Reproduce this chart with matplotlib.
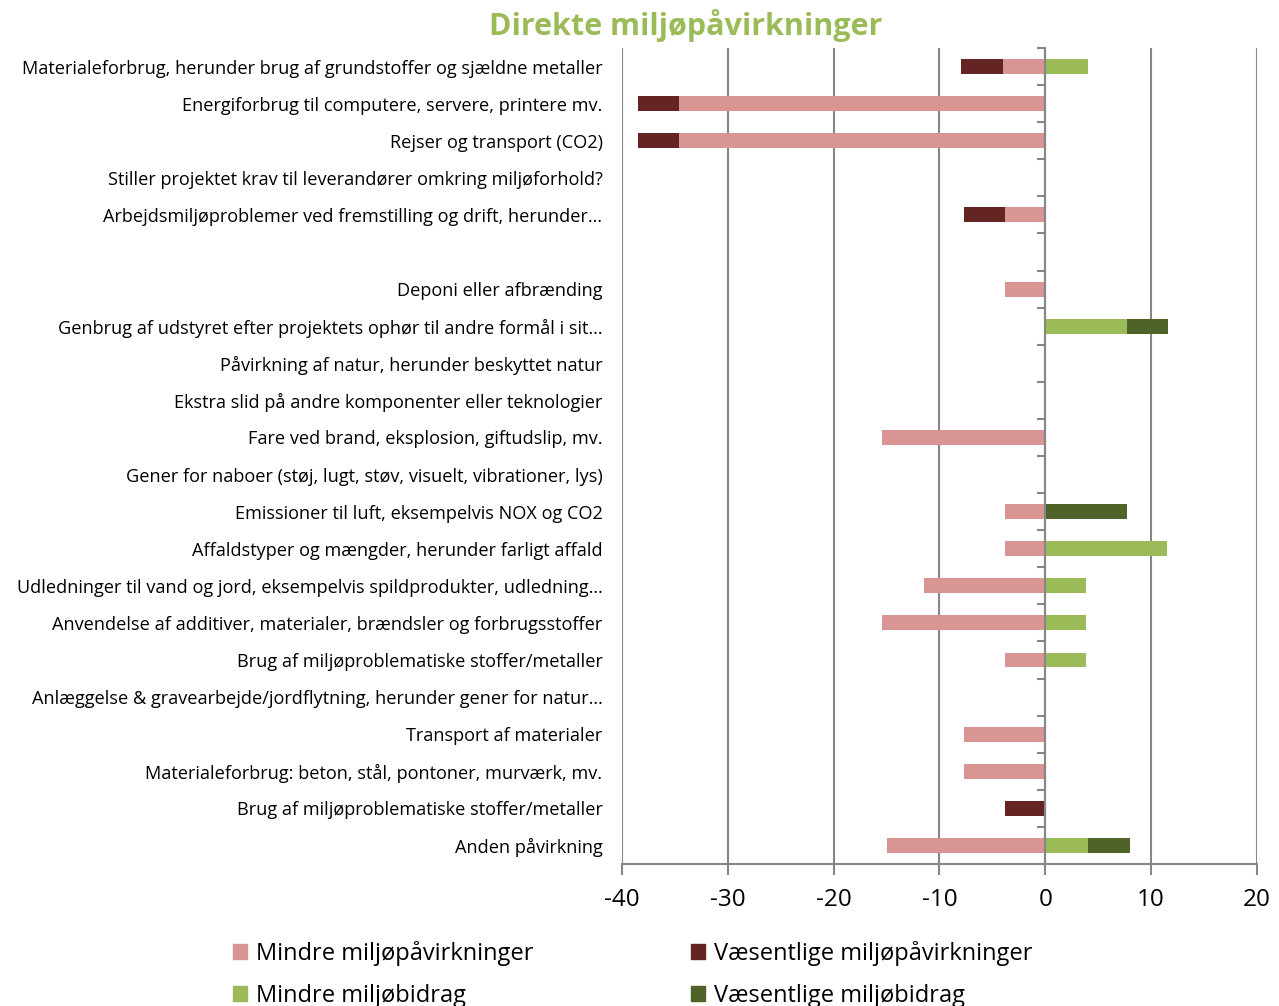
import numpy as np
import matplotlib.pyplot as plt
from matplotlib.patches import Patch

plt.rcParams['font.family'] = ['Open Sans', 'DejaVu Sans']

categories = [
    "Materialeforbrug, herunder brug af grundstoffer og sjældne metaller",
    "Energiforbrug til computere, servere, printere mv.",
    "Rejser og transport (CO2)",
    "Stiller projektet krav til leverandører omkring miljøforhold?",
    "Arbejdsmiljøproblemer ved fremstilling og drift, herunder…",
    "",
    "Deponi eller afbrænding",
    "Genbrug af udstyret efter projektets ophør til andre formål i sit…",
    "Påvirkning af natur, herunder beskyttet natur",
    "Ekstra slid på andre komponenter eller teknologier",
    "Fare ved brand, eksplosion, giftudslip, mv.",
    "Gener for naboer (støj, lugt, støv, visuelt, vibrationer, lys)",
    "Emissioner til luft, eksempelvis NOX og CO2",
    "Affaldstyper og mængder, herunder farligt affald",
    "Udledninger til vand og jord, eksempelvis spildprodukter, udledning…",
    "Anvendelse af additiver, materialer, brændsler og forbrugsstoffer",
    "Brug af miljøproblematiske stoffer/metaller",
    "Anlæggelse & gravearbejde/jordflytning, herunder gener for natur…",
    "Transport af materialer",
    "Materialeforbrug: beton, stål, pontoner, murværk, mv.",
    "Brug af miljøproblematiske stoffer/metaller",
    "Anden påvirkning",
]

# negative = påvirkninger, positive = bidrag (procent)
mindre_paavirk = [-4, -34.6, -34.6, 0, -3.85, 0, -3.85, 0, 0, 0, -15.4, 0,
                  -3.85, -3.85, -11.5, -15.4, -3.85, 0, -7.7, -7.7, 0, -15]
vaes_paavirk = [-4, -3.85, -3.85, 0, -3.85, 0, 0, 0, 0, 0, 0, 0,
                0, 0, 0, 0, 0, 0, 0, 0, -3.85, 0]
mindre_bidrag = [4, 0, 0, 0, 0, 0, 0, 7.7, 0, 0, 0, 0,
                 0, 11.5, 3.85, 3.85, 3.85, 0, 0, 0, 0, 4]
vaes_bidrag = [0, 0, 0, 0, 0, 0, 0, 3.85, 0, 0, 0, 0,
               7.7, 0, 0, 0, 0, 0, 0, 0, 0, 4]

c_mp = "#D99594"
c_vp = "#632423"
c_mb = "#9BBB59"
c_vb = "#4F6228"
grid_c = "#868686"

fig = plt.figure(figsize=(12.79, 10.06), dpi=100)
ax = fig.add_axes([622 / 1279, 1 - 864 / 1006, 635 / 1279, 816 / 1006])

y = np.arange(len(categories))
mp = np.array(mindre_paavirk)
vp = np.array(vaes_paavirk)
mb = np.array(mindre_bidrag)
vb = np.array(vaes_bidrag)
h = 0.4
ax.barh(y, mp, height=h, color=c_mp, zorder=3)
ax.barh(y, vp, left=mp, height=h, color=c_vp, zorder=3)
ax.barh(y, mb, height=h, color=c_mb, zorder=3)
ax.barh(y, vb, left=mb, height=h, color=c_vb, zorder=3)

ax.set_xlim(-40, 20)
ax.set_ylim(len(categories) - 0.5, -0.5)
ax.grid(axis='x', color=grid_c, linewidth=1.5, zorder=0)
ax.tick_params(axis='x', length=8, width=1.5, color=grid_c, pad=9,
               labelsize=17.5)
ax.tick_params(axis='y', which='major', length=0, pad=14, labelsize=13.1)
ax.tick_params(axis='y', which='minor', left=False, right=True, direction='in',
               length=6, width=1.5, color=grid_c)
ax.set_xticks(np.arange(-40, 21, 10))
ax.set_xticklabels([str(v) for v in range(-40, 21, 10)])
ax.set_yticks(np.arange(-0.5, len(categories), 1), minor=True)
ax.set_yticks(y)
ax.set_yticklabels(categories)

for s in ['top', 'left']:
    ax.spines[s].set_visible(False)
ax.spines['right'].set_position(('data', 0))
ax.spines['right'].set_color(grid_c)
ax.spines['right'].set_linewidth(1.5)
ax.spines['right'].set_zorder(4)
ax.spines['bottom'].set_color(grid_c)
ax.spines['bottom'].set_linewidth(1.5)

fig.text(686 / 1279, 1 - 25 / 1006, "Direkte miljøpåvirkninger", color=c_mb,
         fontsize=22, fontweight='bold', ha='center', va='center')

handles = [Patch(color=c_mp, label="Mindre miljøpåvirkninger"),
           Patch(color=c_mb, label="Mindre miljøbidrag"),
           Patch(color=c_vp, label="Væsentlige miljøpåvirkninger"),
           Patch(color=c_vb, label="Væsentlige miljøbidrag")]
fig.legend(handles=handles, ncol=2, frameon=False, fontsize=17,
           loc='upper left', bbox_to_anchor=(216 / 1279, 1 - 924 / 1006),
           handlelength=0.6, handleheight=0.6, handletextpad=0.4,
           columnspacing=6.65, labelspacing=0.78, borderpad=0.2)

fig.savefig("out.png", dpi=100)
